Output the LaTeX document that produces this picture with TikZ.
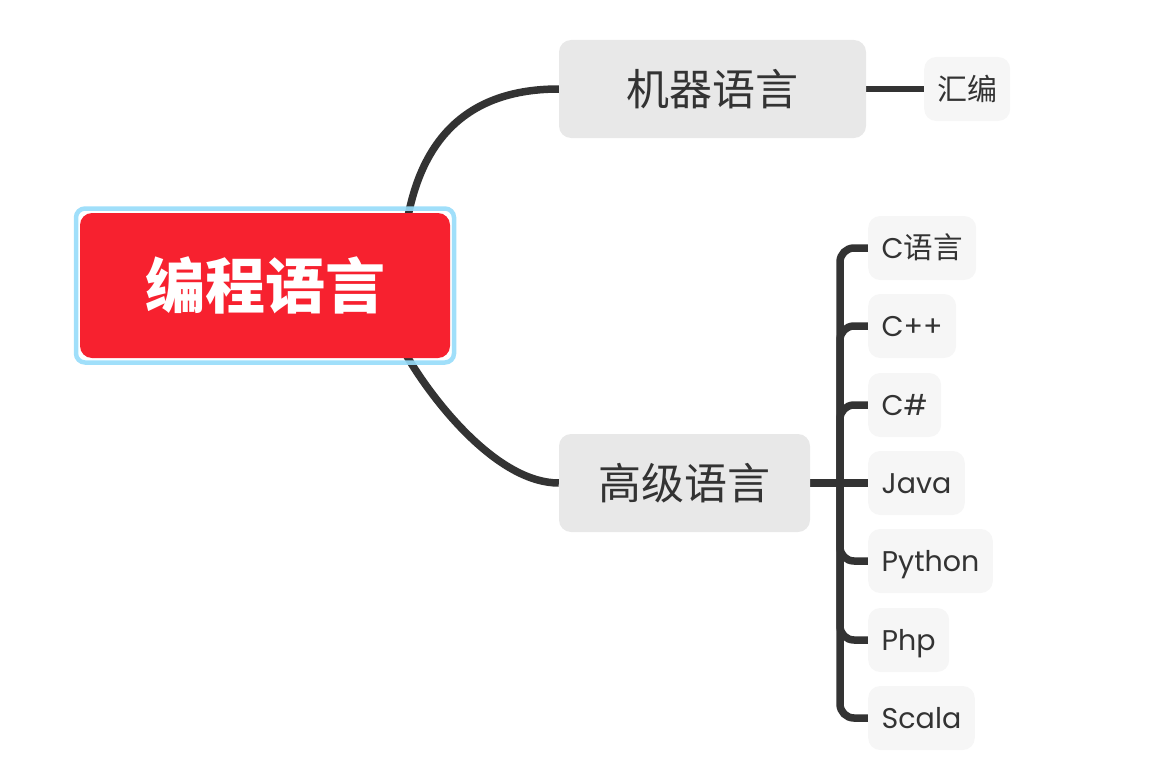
\documentclass[tikz,border=0pt]{standalone}
\usepackage{fontspec}
\setmainfont{Poppins}
\newfontfamily\cjk{Noto Sans CJK SC}
\usetikzlibrary{backgrounds}
\definecolor{ink}{HTML}{333333}
\definecolor{topicred}{HTML}{F7212F}
\definecolor{ringblue}{HTML}{96DCFA}
\definecolor{subgray}{HTML}{E8E8E8}
\definecolor{leafgray}{HTML}{F6F6F6}
\tikzset{
  conn/.style={draw=ink, line width=7.5pt},
  mainbox/.style={fill=topicred, rounded corners=12pt, minimum width=370pt, minimum height=145pt, inner sep=0pt, text=white, font=\cjk\bfseries\fontsize{60}{60}\selectfont},
  ringbox/.style={draw=ringblue, line width=4.5pt, rounded corners=9pt, minimum width=378pt, minimum height=154pt, inner sep=0pt, opacity=0.9},
  subbox/.style={fill=subgray, rounded corners=12pt, minimum height=98pt, inner sep=0pt, text=ink, font=\cjk\fontsize{43}{43}\selectfont},
  leafbox/.style={fill=leafgray, rounded corners=12pt, minimum height=64pt, inner xsep=13.5pt, inner ysep=0pt, text height=20pt, text depth=0pt, anchor=west, text=ink, font=\fontsize{28.5}{28.5}\selectfont},
}
\begin{document}
\begin{tikzpicture}[x=1pt,y=-1pt]
\useasboundingbox (0,0) rectangle (1162,784);
% nodes
\node[mainbox] (main) at (265,285.5) {编程语言};
\node[ringbox] (ring) at (main.center) {};
\node[subbox, minimum width=307pt] (mach) at (712.5,89) {机器语言};
\node[subbox, minimum width=251pt] (high) at (684.5,483) {高级语言};
\node[leafbox, font=\cjk\fontsize{30}{30}\selectfont, inner xsep=13pt, text height=23pt, text depth=0pt] (asm) at (924,89) {汇编};
\node[leafbox] (c1) at (868,248) {C{\cjk\fontsize{29.5}{29.5}\selectfont 语言}};
\node[leafbox] (c2) at (868,326) {C++};
\node[leafbox] (c3) at (868,405) {C\#};
\node[leafbox] (c4) at (868,483) {Java};
\node[leafbox] (c5) at (868,561) {Python};
\node[leafbox] (c6) at (868,640) {Php};
\node[leafbox] (c7) at (868,718) {Scala};
\coordinate (tstart) at (402,286);
\coordinate (bstart) at (402,348);
\coordinate (hub) at (840,483);
% connectors
\begin{scope}[on background layer]
\draw[conn] (tstart) .. controls (402,154.7) and (454.3,89) .. (mach.west);
\draw[conn] (bstart) -- (408,358) .. controls (438,408) and (500,483) .. (high.west);
\draw[conn, line width=6.5pt] (mach.east) -- (asm.west);
\draw[conn] (high.east) -- (c4.west);
\foreach \c in {c1,c2,c3,c5,c6,c7}{
  \draw[conn, rounded corners=14pt] (hub) |- (\c.west);
}
\end{scope}
\end{tikzpicture}
\end{document}
